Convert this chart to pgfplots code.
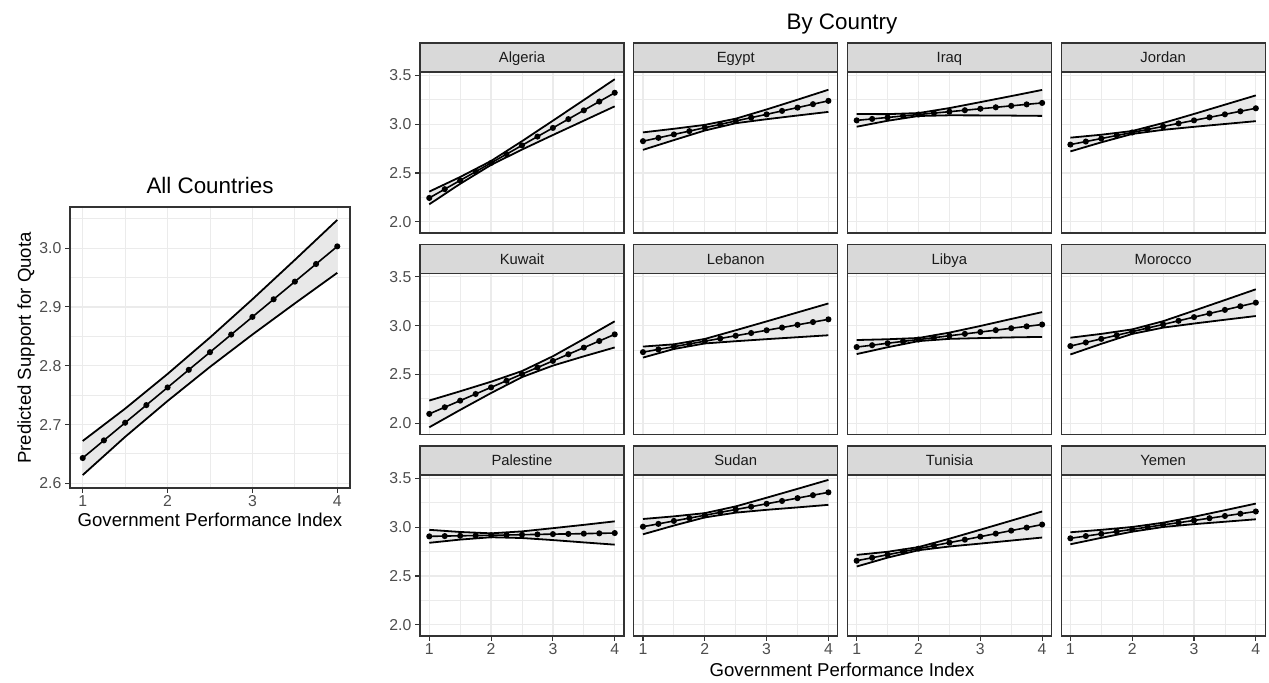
\documentclass[border=0pt]{standalone}
\usepackage{fontspec}
\setmainfont{Liberation Sans}
\usepackage{pgfplots}
\usepackage{pgfplotstable}
\pgfplotsset{compat=1.18}
\usepgfplotslibrary{fillbetween}

\definecolor{frame}{HTML}{333333}
\definecolor{ticktext}{HTML}{4D4D4D}
\definecolor{gridc}{HTML}{EBEBEB}
\definecolor{stripc}{HTML}{D9D9D9}
\definecolor{striptx}{HTML}{1A1A1A}
\definecolor{bandc}{HTML}{E8E8E8}

% predicted values, x = 1 ... 4 by 0.25
\pgfplotstableread{
x    Alg   Egy   Irq   Jor   Kuw   Leb   Lby   Mor   Pal   Sud   Tun   Yem   All
1.00 2.244 2.826 3.039 2.791 2.096 2.729 2.781 2.791 2.906 3.005 2.656 2.886 2.643
1.25 2.334 2.860 3.054 2.822 2.164 2.757 2.800 2.828 2.909 3.034 2.687 2.909 2.673
1.50 2.424 2.895 3.069 2.853 2.232 2.785 2.820 2.865 2.912 3.064 2.718 2.932 2.703
1.75 2.513 2.929 3.084 2.884 2.300 2.813 2.839 2.902 2.914 3.093 2.749 2.955 2.733
2.00 2.603 2.964 3.099 2.915 2.368 2.841 2.858 2.939 2.917 3.122 2.780 2.978 2.763
2.25 2.693 2.998 3.114 2.946 2.436 2.869 2.877 2.976 2.920 3.152 2.811 3.001 2.793
2.50 2.783 3.033 3.128 2.977 2.504 2.897 2.897 3.013 2.923 3.181 2.842 3.024 2.823
2.75 2.873 3.067 3.143 3.008 2.571 2.925 2.916 3.050 2.926 3.210 2.872 3.046 2.853
3.00 2.962 3.101 3.158 3.039 2.639 2.953 2.935 3.088 2.929 3.240 2.903 3.069 2.883
3.25 3.052 3.136 3.173 3.070 2.707 2.981 2.954 3.125 2.931 3.269 2.934 3.092 2.913
3.50 3.142 3.170 3.188 3.101 2.775 3.009 2.974 3.162 2.934 3.298 2.965 3.115 2.943
3.75 3.232 3.205 3.203 3.132 2.843 3.037 2.993 3.199 2.937 3.328 2.996 3.138 2.973
4.00 3.322 3.239 3.218 3.163 2.911 3.065 3.012 3.236 2.940 3.357 3.027 3.161 3.003
}\fits

% confidence bands, upper (U) and lower (L)
\pgfplotstableread{
x   AlgU  AlgL  EgyU  EgyL  IrqU  IrqL  JorU  JorL  KuwU  KuwL  LebU  LebL  LbyU  LbyL  MorU  MorL  PalU  PalL  SudU  SudL  TunU  TunL  YemU  YemL  AllU  AllL
1.0 2.309 2.179 2.916 2.737 3.104 2.974 2.862 2.721 2.233 1.959 2.786 2.673 2.853 2.709 2.877 2.705 2.973 2.840 3.084 2.927 2.716 2.597 2.948 2.825 2.672 2.614
1.5 2.459 2.389 2.953 2.837 3.103 3.035 2.892 2.814 2.328 2.137 2.809 2.761 2.861 2.779 2.916 2.814 2.951 2.873 3.111 3.017 2.748 2.688 2.973 2.891 2.727 2.679
2.0 2.623 2.583 2.993 2.935 3.114 3.084 2.930 2.900 2.426 2.310 2.864 2.818 2.874 2.842 2.962 2.916 2.937 2.897 3.144 3.100 2.796 2.764 3.002 2.954 2.786 2.740
2.5 2.826 2.740 3.056 3.010 3.165 3.091 3.012 2.942 2.535 2.473 2.953 2.841 2.929 2.865 3.046 2.980 2.957 2.889 3.213 3.149 2.882 2.802 3.046 3.002 2.848 2.798
3.0 3.036 2.889 3.151 3.051 3.226 3.090 3.105 2.973 2.687 2.591 3.044 2.862 2.997 2.873 3.154 3.022 2.990 2.868 3.302 3.178 2.974 2.832 3.107 3.031 2.913 2.853
3.5 3.248 3.036 3.251 3.089 3.288 3.088 3.200 3.002 2.864 2.686 3.136 2.882 3.069 2.880 3.263 3.061 3.024 2.844 3.393 3.203 3.067 2.863 3.174 3.056 2.980 2.906
4.0 3.461 3.183 3.353 3.126 3.351 3.085 3.295 3.031 3.045 2.777 3.228 2.902 3.139 2.885 3.373 3.099 3.060 2.821 3.485 3.229 3.161 2.894 3.242 3.081 3.048 2.958
}\bands

\pgfplotsset{
  panel/.style={
    scale only axis, anchor=south west,
    xmin=0.85, xmax=4.15,
    xtick={1,2,3,4}, minor xtick={1.5,2.5,3.5},
    grid=both,
    major grid style={draw=gridc, line width=0.6pt},
    minor grid style={draw=gridc, line width=0.4pt},
    axis line style={draw=frame, line width=0.55pt},
    tick align=outside, tick pos=left,
    major tick length=2.5pt, minor tick length=0pt,
    tick style={draw=frame, line width=0.55pt},
    tick label style={font=\fontsize{7.9}{9}\selectfont, text=ticktext},
    yticklabel style={inner xsep=1.6pt},
    xticklabel style={inner ysep=1.2pt},
    /pgf/number format/assume math mode=true,
    yticklabel style={/pgf/number format/.cd, fixed, fixed zerofill, precision=1},
  },
  facet/.style={
    panel, width=102pt, height=80.5pt,
    ymin=1.885, ymax=3.535,
    ytick={2,2.5,3,3.5}, minor ytick={2.25,2.75,3.25},
  },
  noxt/.style={xticklabels={}, xmajorticks=false},
  noyt/.style={yticklabels={}, ymajorticks=false},
  cil/.style={black, line width=0.9pt},
  fitl/.style={black, line width=0.8pt, mark=*, mark size=1.1pt},
}

\tikzset{
  strip/.style={fill=stripc, draw=frame, line width=0.55pt},
  striptext/.style={text=striptx, font=\fontsize{7.4}{9}\selectfont, anchor=base, inner sep=0pt},
  ttl/.style={font=\fontsize{11.2}{13}\selectfont, anchor=base, inner sep=0pt},
  lbl/.style={font=\fontsize{9.3}{11}\selectfont, anchor=base, inner sep=0pt},
}

% #1 x, #2 y, #3 name, #4 column, #5 axis options
\newcommand{\facet}[5]{%
  \begin{axis}[facet, at={(#1,#2)}, #5]
    \addplot[draw=none, name path=up] table[x=x, y=#4U] {\bands};
    \addplot[draw=none, name path=lo] table[x=x, y=#4L] {\bands};
    \addplot[fill=bandc, draw=none] fill between[of=up and lo];
    \addplot[cil] table[x=x, y=#4U] {\bands};
    \addplot[cil] table[x=x, y=#4L] {\bands};
    \addplot[fitl] table[x=x, y=#4] {\fits};
  \end{axis}
  \draw[strip] (#1,#2+80.5pt) rectangle ++(102pt,14.5pt);
  \node[striptext] at ({#1+51pt},{#2+85.1pt}) {#3};
}

\begin{document}
\begin{tikzpicture}

% all countries
\begin{axis}[panel, at={(35pt,97.5pt)}, width=140pt, height=140.5pt,
    ymin=2.592, ymax=3.070,
    ytick={2.6,2.7,2.8,2.9,3.0}, minor ytick={2.65,2.75,2.85,2.95,3.05}]
  \addplot[draw=none, name path=up] table[x=x, y=AllU] {\bands};
  \addplot[draw=none, name path=lo] table[x=x, y=AllL] {\bands};
  \addplot[fill=bandc, draw=none] fill between[of=up and lo];
  \addplot[cil] table[x=x, y=AllU] {\bands};
  \addplot[cil] table[x=x, y=AllL] {\bands};
  \addplot[fitl] table[x=x, y=All] {\fits};
\end{axis}
\node[ttl] at (105pt,244.8pt) {All Countries};
\node[lbl, rotate=90] at (15.5pt,167.5pt) {Predicted Support for Quota};
\node[lbl] at (105pt,78.3pt) {Government Performance Index};

% by country
\facet{210pt}{225pt}{Algeria}{Alg}{noxt}
\facet{316.85pt}{225pt}{Egypt}{Egy}{noxt, noyt}
\facet{423.7pt}{225pt}{Iraq}{Irq}{noxt, noyt}
\facet{530.55pt}{225pt}{Jordan}{Jor}{noxt, noyt}

\facet{210pt}{124.25pt}{Kuwait}{Kuw}{noxt}
\facet{316.85pt}{124.25pt}{Lebanon}{Leb}{noxt, noyt}
\facet{423.7pt}{124.25pt}{Libya}{Lby}{noxt, noyt}
\facet{530.55pt}{124.25pt}{Morocco}{Mor}{noxt, noyt}

\facet{210pt}{23.5pt}{Palestine}{Pal}{}
\facet{316.85pt}{23.5pt}{Sudan}{Sud}{noyt}
\facet{423.7pt}{23.5pt}{Tunisia}{Tun}{noyt}
\facet{530.55pt}{23.5pt}{Yemen}{Yem}{noyt}

\node[ttl] at (421pt,326.75pt) {By Country};
\node[lbl] at (421pt,3pt) {Government Performance Index};

\pgfresetboundingbox
\useasboundingbox (0,0) rectangle (634.5pt,341.5pt);
\end{tikzpicture}
\end{document}
